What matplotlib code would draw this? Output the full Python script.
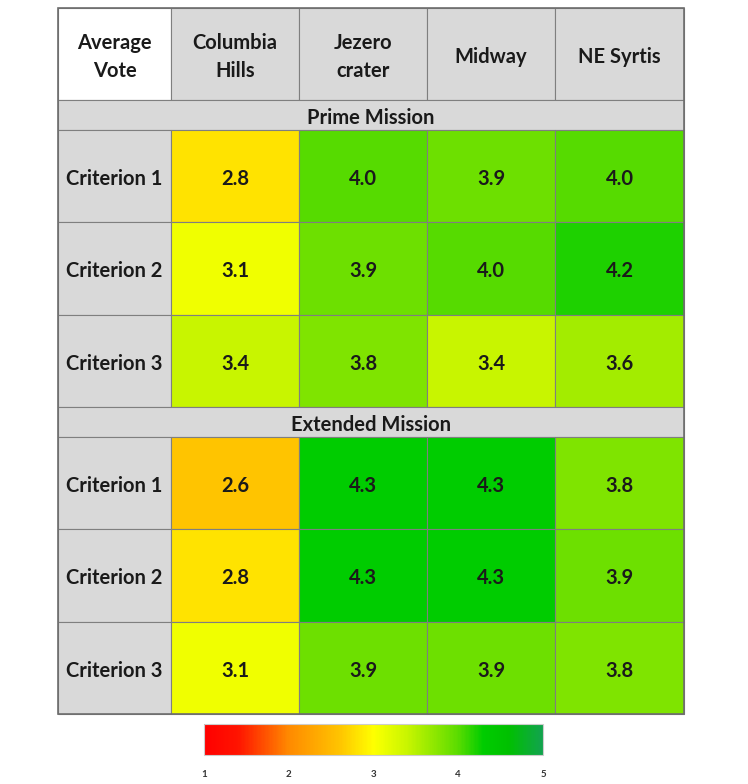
import matplotlib
matplotlib.use("Agg")
import matplotlib.pyplot as plt
import numpy as np
from matplotlib.colors import LinearSegmentedColormap, Normalize
from matplotlib.patches import Rectangle
from matplotlib.cm import ScalarMappable

plt.rcParams['font.family'] = ['Lato', 'DejaVu Sans']

corner_label = "Average\nVote"
sites = ["Columbia\nHills", "Jezero\ncrater", "Midway", "NE Syrtis"]
sections = ["Prime Mission", "Extended Mission"]
criteria = ["Criterion 1", "Criterion 2", "Criterion 3"]
prime_votes = [[2.8, 4.0, 3.9, 4.0],
               [3.1, 3.9, 4.0, 4.2],
               [3.4, 3.8, 3.4, 3.6]]
extended_votes = [[2.6, 4.3, 4.3, 3.8],
                  [2.8, 4.3, 4.3, 3.9],
                  [3.1, 3.9, 3.9, 3.8]]
scale_ticks = [1, 2, 3, 4, 5]

# colour scale (red -> yellow -> green)
stops = [(1.0, "#ff0000"), (1.4, "#ff1400"), (2.0, "#ff8a00"), (2.6, "#ffc400"),
         (2.8, "#ffe200"), (3.0, "#ffff00"), (3.1, "#f0ff00"), (3.4, "#c8f500"),
         (3.8, "#80e400"), (4.0, "#5adc00"), (4.3, "#00cc00"), (4.6, "#00c000"),
         (5.0, "#12a34e")]
vmin, vmax = 1.0, 5.0
cmap = LinearSegmentedColormap.from_list(
    "vote", [((v - vmin) / (vmax - vmin), c) for v, c in stops])
norm = Normalize(vmin, vmax)

W, H = 748, 784
fig = plt.figure(figsize=(W / 100, H / 100), dpi=100)
ax = fig.add_axes([0, 0, 1, 1])
ax.set_xlim(0, W)
ax.set_ylim(H, 0)
ax.axis("off")

# layout (pixels)
col_edges = [58, 171, 299, 427, 555, 684]
header = (8, 100)
band_h = 30
row_h = 92.3
prime_top = 100
line_c = "#7f7f7f"
gray = "#d9d9d9"
fs = 14.5
text_dy = 3


def cell(x0, x1, y0, y1, fc, text=None, size=fs, lw=0.8):
    ax.add_patch(Rectangle((x0, y0), x1 - x0, y1 - y0, facecolor=fc,
                           edgecolor=line_c, linewidth=lw))
    if text is not None:
        ax.text((x0 + x1) / 2, (y0 + y1) / 2 + text_dy, text, ha="center",
                va="center", fontsize=size, fontweight="bold",
                color="#1a1a1a", linespacing=1.45)


# header row
cell(col_edges[0], col_edges[1], header[0], header[1], "white", corner_label)
for j, s in enumerate(sites):
    cell(col_edges[j + 1], col_edges[j + 2], header[0], header[1], gray, s)

y = prime_top
for sec, votes in zip(sections, [prime_votes, extended_votes]):
    cell(col_edges[0], col_edges[-1], y, y + band_h, gray, sec)
    y += band_h
    for i, crit in enumerate(criteria):
        cell(col_edges[0], col_edges[1], y, y + row_h, gray, crit)
        for j in range(len(sites)):
            v = votes[i][j]
            cell(col_edges[j + 1], col_edges[j + 2], y, y + row_h,
                 cmap(norm(v)), f"{v:.1f}")
        y += row_h

# outer border
ax.add_patch(Rectangle((col_edges[0], header[0]), col_edges[-1] - col_edges[0],
                       y - header[0], facecolor="none", edgecolor="#6e6e6e",
                       linewidth=1.2))

# colour bar
cax = fig.add_axes([204 / W, 1 - 755 / H, (543 - 204) / W, 31 / H])
cb = fig.colorbar(ScalarMappable(norm=norm, cmap=cmap), cax=cax,
                  orientation="horizontal", ticks=scale_ticks)
cb.outline.set_edgecolor("#cccccc")
cb.outline.set_linewidth(0.8)
cax.tick_params(length=0, pad=11, labelsize=7)
for t in cax.get_xticklabels():
    t.set_fontweight("bold")
    t.set_color("#333333")

fig.savefig("out.png", dpi=100, facecolor="white")
